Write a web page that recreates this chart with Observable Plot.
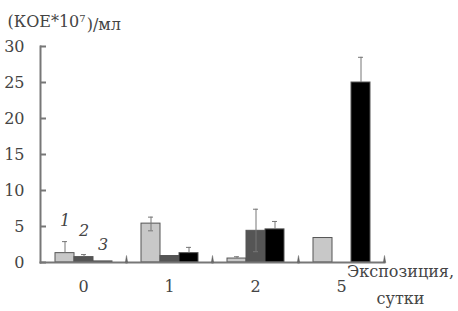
<!DOCTYPE html>
<html><head><meta charset="utf-8">
<script src="https://cdn.jsdelivr.net/npm/d3@7"></script>
<script src="https://cdn.jsdelivr.net/npm/@observablehq/plot@0.6"></script>
<style>body{margin:0;background:#fff} svg text{font-family:"DejaVu Serif",serif !important;}</style>
</head><body><div id="chart"></div>
<script>
const days = ["0", "1", "2", "5"];
const series = ["1", "2", "3"];
const s1 = [1.3, 5.4, 0.55, 3.4];
const s1lo = [null, 4.4, null, null];
const s1hi = [2.9, 6.3, 0.8, null];
const s2 = [0.75, 0.9, 4.4, null];
const s2lo = [null, null, 1.5, null];
const s2hi = [1.1, null, 7.4, null];
const s3 = [0.15, 1.3, 4.6, 25.0];
const s3lo = [null, null, null, null];
const s3hi = [null, 2.1, 5.7, 28.5];
const seriesLabelY = [5.8, 4.4, 2.4];
const yTicks = [0, 5, 10, 15, 20, 25, 30];
const yTitleParts = ["(КОЕ*10", "7", ")/мл"];
const xTitle = "Экспозиция,\nсутки";

const vals = [s1, s2, s3], los = [s1lo, s2lo, s3lo], his = [s1hi, s2hi, s3hi];
const rows = [];
days.forEach((day, j) => series.forEach((s, i) => {
  rows.push({day, s, v: vals[i][j], lo: los[i][j] ?? vals[i][j], hi: his[i][j], hasLo: los[i][j] != null});
}));
const bars = rows.filter(d => d.v != null);
const errs = rows.filter(d => d.hi != null);
const errLows = rows.filter(d => d.hasLo);
const labels = series.map((s, i) => ({day: "0", s, y: seriesLabelY[i]}));

const ff = "DejaVu Serif";

const chart = Plot.plot({
  width: 458, height: 311,
  marginLeft: 38, marginRight: 73, marginTop: 46, marginBottom: 49,
  style: {fontFamily: ff, fontSize: "16px", color: "#444", background: "#fff"},
  fx: {domain: days, padding: 0, label: null},
  x: {domain: series, paddingInner: 0, paddingOuter: 0.67, axis: null},
  y: {domain: [0, 30], axis: null},
  color: {domain: series, range: ["#c8c8c8", "#555555", "#000000"]},
  marks: [
    Plot.barY(bars, {fx: "day", x: "s", y: "v", fill: "s", stroke: "#555", strokeWidth: 1}),
    Plot.ruleX(errs, {fx: "day", x: "s", y1: "lo", y2: "hi", stroke: "#777", strokeWidth: 1}),
    Plot.tickY(errs, {fx: "day", x: "s", y: "hi", stroke: "#777", insetLeft: 7, insetRight: 7}),
    Plot.tickY(errLows, {fx: "day", x: "s", y: "lo", stroke: "#777", insetLeft: 7, insetRight: 7}),
    Plot.text(labels, {fx: "day", x: "s", y: "y", text: "s", fontStyle: "italic", fill: "#444", fontFamily: ff, fontSize: 16}),
    Plot.frame({anchor: "bottom", stroke: "#777", strokeWidth: 2}),
    Plot.frame({anchor: "left", facetAnchor: "left", stroke: "#777", strokeWidth: 2}),
    Plot.vector([0], {frameAnchor: "bottom-right", length: 7, rotate: 0, anchor: "start", shape: "spike", r: 1.2, fill: "#666", stroke: "#666", strokeWidth: 0.5}),
    Plot.axisY(yTicks, {tickSize: -6, tickPadding: 22, stroke: "#777", strokeWidth: 2, fill: "#444", fontFamily: ff, fontSize: 16}),
    Plot.axisFx({anchor: "bottom", tickSize: 0, tickPadding: 18, label: null, fill: "#444", fontFamily: ff, fontSize: 16}),
    Plot.text([{day: "0"}], {fx: "day", frameAnchor: "top-left", text: () => yTitleParts.join(""), textAnchor: "start", dx: -33, dy: -31, fill: "#444", fontFamily: ff, fontSize: 16}),
    Plot.text([{day: "5"}], {fx: "day", frameAnchor: "bottom-right", text: () => xTitle, textAnchor: "middle", lineAnchor: "top", lineHeight: 1.7, dx: 16, dy: -5, fill: "#444", fontFamily: ff, fontSize: 16})
  ]
});
// superscript the exponent in the y title
d3.select(chart).selectAll("text").filter(function() { return this.textContent === yTitleParts.join(""); }).each(function() {
  const t = d3.select(this);
  t.text(null);
  t.append("tspan").text(yTitleParts[0]);
  t.append("tspan").attr("dy", "-0.45em").attr("font-size", "10px").text(yTitleParts[1]);
  t.append("tspan").attr("dy", "0.45em").attr("dx", "1").text(yTitleParts[2]);
});
document.getElementById("chart").appendChild(chart);
</script>
</body></html>
